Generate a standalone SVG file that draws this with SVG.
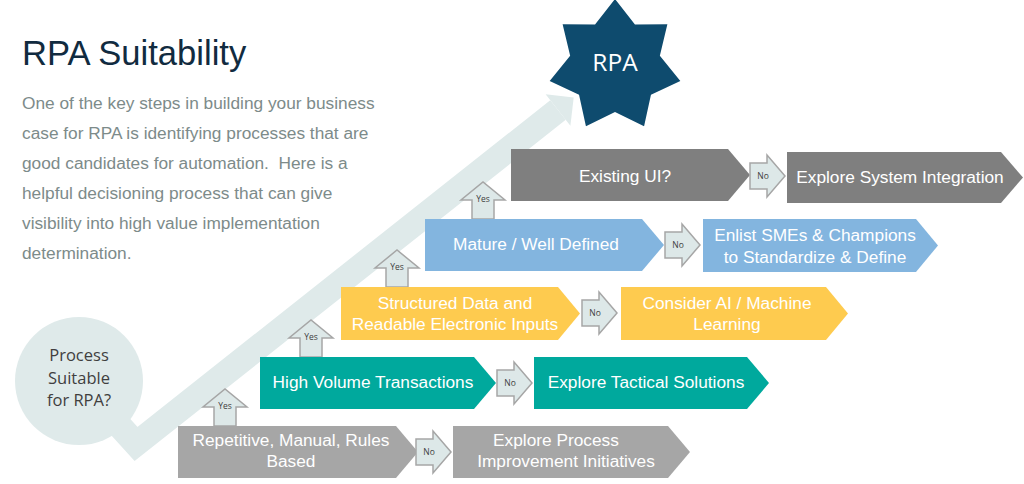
<svg xmlns="http://www.w3.org/2000/svg" width="1024" height="484" viewBox="0 0 1024 484">
<style>
.t{font-family:"Liberation Sans",Arial,sans-serif;font-size:17.3px;fill:#ffffff;text-anchor:middle}
.c{font-family:"Open Sans","Noto Sans",sans-serif}
.yn{fill:#dde8e8;stroke:#a6a6a6;stroke-width:1.5;stroke-linejoin:miter}
.ynt{font-family:"Open Sans","Noto Sans",sans-serif;font-size:8.5px;fill:#404040;text-anchor:middle}
.body{font-family:"Liberation Sans",Arial,sans-serif;font-size:17.3px;fill:#7d8b8a}
</style>
<rect width="1024" height="484" fill="#ffffff"/>
<g id="header">
<text x="22" y="65" font-family="Liberation Sans, Arial, sans-serif" font-size="34.6" fill="#112b40">RPA Suitability</text>
<text class="body" x="22" y="109">One of the key steps in building your business</text>
<text class="body" x="22" y="139">case for RPA is identifying processes that are</text>
<text class="body" x="22" y="169" xml:space="preserve">good candidates for automation.  Here is a</text>
<text class="body" x="22" y="199">helpful decisioning process that can give</text>
<text class="body" x="22" y="229">visibility into high value implementation</text>
<text class="body" x="22" y="259">determination.</text>
</g>
<g id="connectors">
<polyline points="79,381 136,444 558,110" fill="none" stroke="#dfeaea" stroke-width="25" stroke-linejoin="miter" stroke-miterlimit="10"/>
<polygon points="545.6,94.3 573.7,97.6 570.4,125.7" fill="#dfeaea"/>
<g id="yes-arrows">
<polygon class="yn" points="214,426 214,407 203,407 225,389 247,407 236,407 236,426"/>
<text class="ynt" x="225" y="409">Yes</text>
<polygon class="yn" points="300,357 300,338 289,338 311,320 333,338 322,338 322,357"/>
<text class="ynt" x="311" y="340">Yes</text>
<polygon class="yn" points="386,287 386,268 375,268 397,250 419,268 408,268 408,287"/>
<text class="ynt" x="397" y="270">Yes</text>
<polygon class="yn" points="472,219 472,200 461,200 483,182 505,200 494,200 494,219"/>
<text class="ynt" x="483" y="202">Yes</text>
</g>
</g>
<g id="start">
<circle cx="79" cy="381" r="64" fill="#dfeaea"/>
<text class="c" x="79" y="361" font-size="16.5" fill="#3f3f3f" text-anchor="middle">Process</text>
<text class="c" x="79" y="384" font-size="16.5" fill="#3f3f3f" text-anchor="middle">Suitable</text>
<text class="c" x="79" y="406" font-size="16.5" fill="#3f3f3f" text-anchor="middle">for RPA?</text>
</g>
<g id="rpa">
<polygon points="615,-1 634.96,24.55 667.38,24.22 659.85,55.77 680.32,80.91 650.96,94.68 644.07,126.37 615,112 585.93,126.37 579.04,94.68 549.68,80.91 570.15,55.77 562.62,24.22 595.04,24.55" fill="#0e4b6e"/>
<text class="c" x="615" y="71" font-size="24.5" fill="#ffffff" text-anchor="middle">RPA</text>
</g>
<g id="repetitive">
<polygon points="178,426 396,426 418,452 396,478 178,478" fill="#a6a6a6"/>
<text class="t" x="291" y="446">Repetitive, Manual, Rules</text>
<text class="t" x="291" y="467">Based</text>
</g>
<g id="process-improvement">
<polygon points="453,426 668,426 690,452 668,478 453,478" fill="#a6a6a6"/>
<text class="t" x="556" y="446">Explore Process</text>
<text class="t" x="566" y="467">Improvement Initiatives</text>
</g>
<g id="high-volume">
<polygon points="260,357 474,357 496,383 474,409 260,409" fill="#00a99d"/>
<text class="t" x="373" y="388">High Volume Transactions</text>
</g>
<g id="tactical">
<polygon points="534,357 747,357 769,383 747,409 534,409" fill="#00a99d"/>
<text class="t" x="646" y="388">Explore Tactical Solutions</text>
</g>
<g id="structured">
<polygon points="341,287 558,287 580,313.5 558,340 341,340" fill="#fecb4f"/>
<text class="t" x="455" y="309">Structured Data and</text>
<text class="t" x="455" y="330">Readable Electronic Inputs</text>
</g>
<g id="ai-ml">
<polygon points="621,287 826,287 848,313.5 826,340 621,340" fill="#fecb4f"/>
<text class="t" x="727" y="309">Consider AI / Machine</text>
<text class="t" x="727" y="330">Learning</text>
</g>
<g id="mature">
<polygon points="425,219 642,219 664,245 642,271 425,271" fill="#83b5df"/>
<text class="t" x="536" y="250">Mature / Well Defined</text>
</g>
<g id="enlist">
<polygon points="703,219 916,219 938,245.5 916,272 703,272" fill="#83b5df"/>
<text class="t" x="815" y="241">Enlist SMEs &amp; Champions</text>
<text class="t" x="815" y="263">to Standardize &amp; Define</text>
</g>
<g id="existing-ui">
<polygon points="511,149 728,149 750,175 728,201 511,201" fill="#7f7f7f"/>
<text class="t" x="625" y="182">Existing UI?</text>
</g>
<g id="system-integration">
<polygon points="787,152 1001,152 1023,177.5 1001,203 787,203" fill="#7f7f7f"/>
<text class="t" x="900" y="183">Explore System Integration</text>
</g>
<g id="no-arrows">
<polygon class="yn" points="416,439 433,439 433,431 451,452 433,473 433,465 416,465"/>
<text class="ynt" x="429" y="455">No</text>
<polygon class="yn" points="497,370 514,370 514,362 532,383 514,404 514,396 497,396"/>
<text class="ynt" x="510" y="386">No</text>
<polygon class="yn" points="582,300 599,300 599,292 617,313 599,334 599,326 582,326"/>
<text class="ynt" x="595" y="316">No</text>
<polygon class="yn" points="665,232 682,232 682,224 700,245 682,266 682,258 665,258"/>
<text class="ynt" x="678" y="248">No</text>
<polygon class="yn" points="750,163 767,163 767,155 785,176 767,197 767,189 750,189"/>
<text class="ynt" x="763" y="179">No</text>
</g>
</svg>
